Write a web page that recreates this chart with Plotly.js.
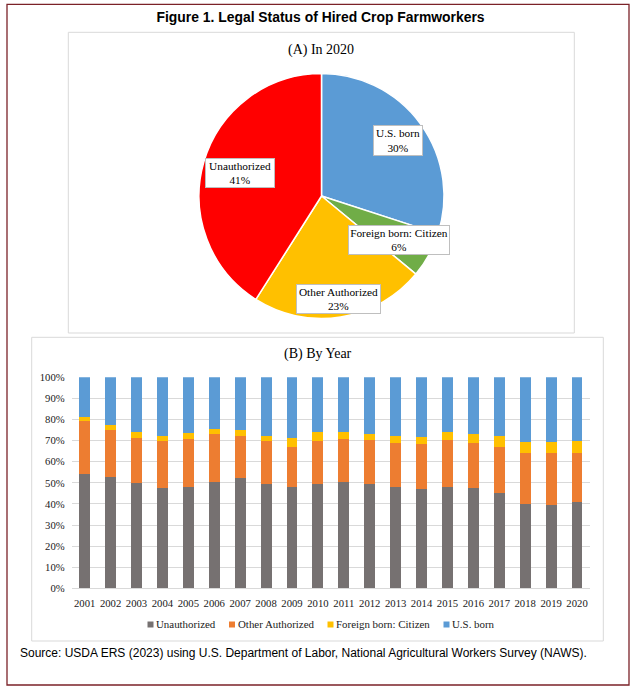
<!DOCTYPE html>
<html>
<head>
<meta charset="utf-8">
<script src="https://cdn.plot.ly/plotly-3.0.1.min.js"></script>
<style>html,body{margin:0;padding:0;background:#fff;}#chart{width:637px;height:692px;}</style>
</head>
<body>
<div id="chart"></div>
<script>
// ---- Data ----
var pieLabels = ["U.S. born", "Foreign born: Citizen", "Other Authorized", "Unauthorized"];
var pieValues = [30, 6, 23, 41];

var years = ["2001","2002","2003","2004","2005","2006","2007","2008","2009","2010",
             "2011","2012","2013","2014","2015","2016","2017","2018","2019","2020"];
var unauthorized    = [54.3,52.6,49.8,47.6,47.9,50.2,52.1,49.6,47.9,49.3,50.2,49.6,47.9,46.9,47.9,47.4,45.0,39.8,39.4,40.8];
var otherAuthorized = [24.8,22.2,21.2,22.0,23.0,22.7,20.2,20.0,18.9,20.3,20.4,20.5,20.8,21.3,22.2,21.3,22.2,24.1,24.5,23.1];
var foreignCitizen  = [1.9,2.4,2.9,2.8,2.5,2.4,2.5,2.8,4.2,4.3,3.3,2.8,3.3,3.3,4.2,4.2,4.8,5.2,5.2,5.7];
var usBorn          = [19.0,22.8,26.1,27.6,26.6,24.7,25.2,27.6,29.0,26.1,26.1,27.1,28.0,28.5,25.7,27.1,28.0,30.9,30.9,30.4];
var seriesNames = ["Unauthorized", "Other Authorized", "Foreign born: Citizen", "U.S. born"];

// ---- Helpers (pixel -> paper) ----
var W = 637, H = 692;
function px(x){ return x / W; }
function py(y){ return 1 - y / H; }

var serif = "Liberation Serif, Times New Roman, serif";
var sans = "Liberation Sans, Arial, sans-serif";

var pieColors = ["#5B9BD5", "#70AD47", "#FFC000", "#FF0000"];
var barColors = ["#767171", "#ED7D31", "#FFC000", "#5B9BD5"];
var barSeries = [unauthorized, otherAuthorized, foreignCitizen, usBorn];

var traces = [];
traces.push({
  type: "pie",
  labels: pieLabels,
  values: pieValues,
  sort: false,
  direction: "clockwise",
  rotation: 0,
  textinfo: "none",
  hoverinfo: "label+percent",
  showlegend: false,
  marker: {colors: pieColors, line: {color: "#FFFFFF", width: 1.5}},
  domain: {x: [px(199), px(444)], y: [py(318.5), py(73.5)]}
});
for (var i = 0; i < barSeries.length; i++) {
  traces.push({
    type: "bar",
    name: seriesNames[i],
    x: years,
    y: barSeries[i],
    marker: {color: barColors[i]},
    xaxis: "x",
    yaxis: "y",
    showlegend: false,
    hovertemplate: "%{x}: %{y:.1f}%<extra>" + seriesNames[i] + "</extra>"
  });
}

// Pie callout labels
var boxes = [
  {cx: 398, cy: 140, w: 46, h: 27},
  {cx: 399, cy: 240, w: 98, h: 26},
  {cx: 338, cy: 299, w: 81, h: 26},
  {cx: 240, cy: 173, w: 66, h: 26}
];
var annotations = [];
for (var j = 0; j < pieLabels.length; j++) {
  annotations.push({
    xref: "paper", yref: "paper",
    x: px(boxes[j].cx), y: py(boxes[j].cy),
    xanchor: "center", yanchor: "middle",
    text: pieLabels[j] + "<br>" + pieValues[j] + "%",
    showarrow: false,
    bgcolor: "#FFFFFF", bordercolor: "#BFBFBF", borderwidth: 1, borderpad: 1,
    width: boxes[j].w, height: boxes[j].h,
    font: {family: serif, size: 11.3, color: "#000000"}
  });
}
annotations.push({
  xref: "paper", yref: "paper", x: px(321), y: py(50),
  xanchor: "center", yanchor: "middle", showarrow: false,
  text: "(A) In 2020", font: {family: serif, size: 14, color: "#000000"}
});
annotations.push({
  xref: "paper", yref: "paper", x: px(318), y: py(354),
  xanchor: "center", yanchor: "middle", showarrow: false,
  text: "(B) By Year", font: {family: serif, size: 14, color: "#000000"}
});
annotations.push({
  xref: "paper", yref: "paper", x: px(18), y: py(652.5),
  xanchor: "left", yanchor: "middle", showarrow: false,
  text: "Source: USDA ERS (2023) using U.S. Department of Labor, National Agricultural Workers Survey (NAWS).",
  font: {family: sans, size: 12, color: "#000000"}
});

var shapes = [
  {type: "rect", xref: "paper", yref: "paper", x0: px(7), x1: px(629), y0: py(685), y1: py(4.3),
   line: {color: "#7B2228", width: 1.3}, fillcolor: "rgba(0,0,0,0)", layer: "below"},
  {type: "rect", xref: "paper", yref: "paper", x0: px(68.3), x1: px(574.3), y0: py(333), y1: py(32.3),
   line: {color: "#D9D9D9", width: 1}, fillcolor: "rgba(0,0,0,0)", layer: "below"},
  {type: "rect", xref: "paper", yref: "paper", x0: px(31.7), x1: px(603.3), y0: py(641), y1: py(337.3),
   line: {color: "#D9D9D9", width: 1}, fillcolor: "rgba(0,0,0,0)", layer: "below"}
];

// Compact Excel-style legend (small square + label)
var legendMarkerX = [147.5, 229, 327.5, 443.5];
var legendY = 624;
for (var k = 0; k < seriesNames.length; k++) {
  shapes.push({
    type: "rect", xref: "paper", yref: "paper",
    x0: px(legendMarkerX[k]), x1: px(legendMarkerX[k] + 6),
    y0: py(legendY + 3.5), y1: py(legendY - 2.5),
    line: {width: 0}, fillcolor: barColors[k]
  });
  annotations.push({
    xref: "paper", yref: "paper",
    x: px(legendMarkerX[k] + 6.5), y: py(legendY),
    xanchor: "left", yanchor: "middle", showarrow: false,
    text: seriesNames[k],
    font: {family: serif, size: 10.9, color: "#1A1A1A"}
  });
}

var layout = {
  width: W, height: H,
  margin: {l: 0, r: 0, t: 0, b: 0, pad: 0},
  paper_bgcolor: "#FFFFFF",
  plot_bgcolor: "#FFFFFF",
  title: {
    text: "<b>Figure 1. Legal Status of Hired Crop Farmworkers</b>",
    x: px(320.5), xanchor: "center", xref: "paper",
    y: py(17.5), yanchor: "middle", yref: "paper",
    font: {family: sans, size: 13.9, color: "#000000"}
  },
  barmode: "stack",
  bargap: 0.58,
  xaxis: {
    domain: [px(71.7), px(590)],
    anchor: "y",
    type: "category",
    showgrid: false,
    showline: true, linecolor: "#D9D9D9", linewidth: 1,
    ticks: "", ticklabelstandoff: 5,
    tickfont: {family: serif, size: 10.7, color: "#1A1A1A"},
    automargin: false, fixedrange: true
  },
  yaxis: {
    domain: [py(588.3), py(377.3)],
    anchor: "x",
    range: [0, 100],
    dtick: 10, tick0: 0,
    ticksuffix: "%",
    showgrid: true, gridcolor: "#D9D9D9", gridwidth: 1,
    zeroline: false, showline: false,
    ticks: "", ticklabelstandoff: 6,
    tickfont: {family: serif, size: 10.7, color: "#1A1A1A"},
    automargin: false, fixedrange: true
  },
  showlegend: false,
  shapes: shapes,
  annotations: annotations
};

Plotly.newPlot("chart", traces, layout, {displayModeBar: false});
</script>
</body>
</html>
